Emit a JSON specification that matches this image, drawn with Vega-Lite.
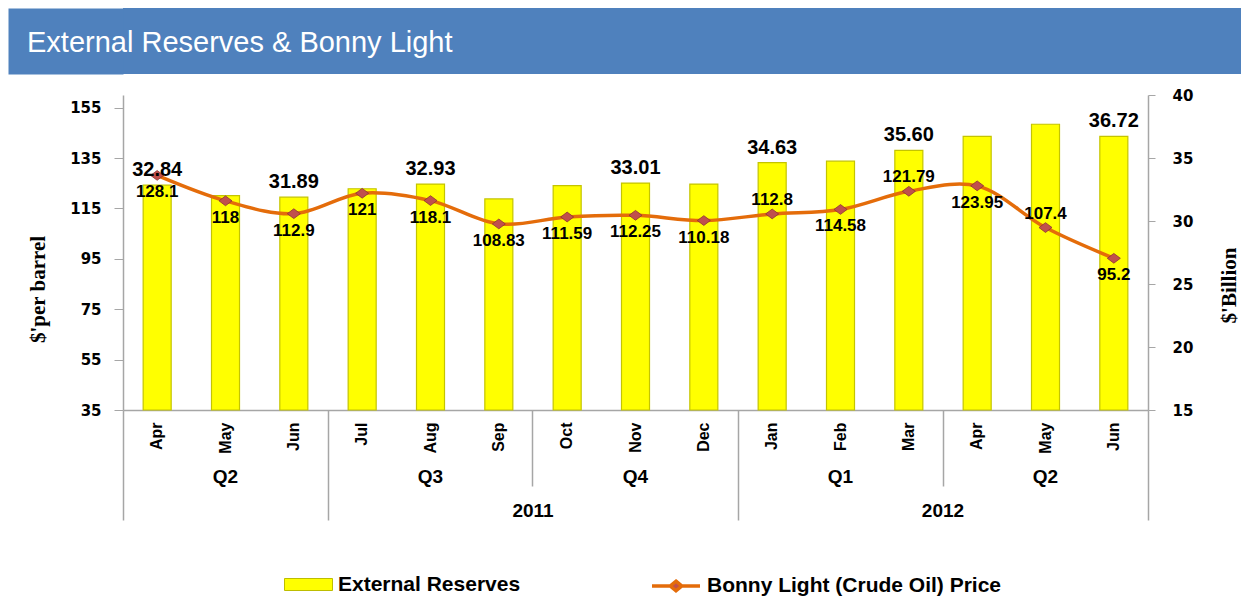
{
 "$schema": "https://vega.github.io/schema/vega-lite/v6.json",
 "background": "white",
 "padding": {"left": -25, "top": 8, "right": 0, "bottom": 0},
 "spacing": 14,
 "config": {"view": {"stroke": null}, "axis": {"grid": false}, "font": "Liberation Sans"},
 "resolve": {"legend": {"stroke": "independent", "fill": "independent"}},
 "vconcat": [
  {
   "width": 1118,
   "height": 66,
   "view": {"fill": "#4F81BD", "stroke": null},
   "title": {"text": "External Reserves & Bonny Light", "orient": "top", "anchor": "start", "frame": "group", "offset": -50, "dx": -96, "color": "white", "fontSize": 29, "fontWeight": "normal", "font": "Liberation Sans"},
   "data": {"values": []},
   "mark": "point",
   "encoding": {
    "y": {"field": "v", "type": "quantitative", "scale": {"domain": [0, 1], "nice": false, "zero": false},
     "axis": {"orient": "left", "values": [0.5], "labels": false, "domain": false, "ticks": true, "tickSize": 115, "tickWidth": 66, "tickColor": "#4F81BD", "tickCap": "butt", "title": null, "grid": false}}
   }
  },
  {
   "width": 1025,
   "height": 315,
   "data": {"values": [
    {"key": "Apr 2011", "reserves": 32.84, "price": 128.1},
    {"key": "May 2011", "reserves": 32.02, "price": 118},
    {"key": "Jun 2011", "reserves": 31.89, "price": 112.9},
    {"key": "Jul 2011", "reserves": 32.56, "price": 121},
    {"key": "Aug 2011", "reserves": 32.93, "price": 118.1},
    {"key": "Sep 2011", "reserves": 31.75, "price": 108.83},
    {"key": "Oct 2011", "reserves": 32.8, "price": 111.59},
    {"key": "Nov 2011", "reserves": 33.01, "price": 112.25},
    {"key": "Dec 2011", "reserves": 32.93, "price": 110.18},
    {"key": "Jan 2012", "reserves": 34.63, "price": 112.8},
    {"key": "Feb 2012", "reserves": 34.75, "price": 114.58},
    {"key": "Mar 2012", "reserves": 35.6, "price": 121.79},
    {"key": "Apr 2012", "reserves": 36.72, "price": 123.95},
    {"key": "May 2012", "reserves": 37.68, "price": 107.4},
    {"key": "Jun 2012", "reserves": 36.72, "price": 95.2}
   ]},
   "resolve": {"scale": {"y": "independent"}, "axis": {"x": "independent"}},
   "layer": [
    {
     "mark": {"type": "bar", "width": {"band": 0.41}, "strokeWidth": 1.2, "stroke": "#C4C400"},
     "encoding": {
      "x": {"field": "key", "type": "ordinal", "sort": null, "scale": {"paddingInner": 0, "paddingOuter": 0},
       "axis": {"orient": "bottom", "title": null, "labelAngle": -90, "labelExpr": "split(datum.value, ' ')[0]", "labelFont": "Liberation Sans", "labelFontSize": 16, "labelFontWeight": "bold", "labelColor": "black", "labelPadding": 12, "ticks": false, "tickSize": 0, "domainColor": "#A6A6A6", "domainWidth": 1.5, "labelOverlap": false}},
      "y": {"field": "reserves", "type": "quantitative", "scale": {"domain": [15, 40], "nice": false, "zero": false},
       "axis": {"orient": "right", "values": [15, 20, 25, 30, 35, 40], "title": "$'Billion", "titleFont": "Liberation Serif", "titleFontSize": 21, "titleFontWeight": "bold", "titleColor": "black", "titleAngle": 270, "titleX": 81, "titleY": 190, "titleBaseline": "middle", "labelFont": "DejaVu Sans", "labelFontSize": 15, "labelFontWeight": "bold", "labelColor": "black", "labelPadding": 17, "tickSize": 7, "tickColor": "#A6A6A6", "domainColor": "#A6A6A6", "domainWidth": 1.5}},
      "y2": {"datum": 15},
      "fill": {"datum": "External Reserves", "type": "nominal",
       "scale": {"domain": ["External Reserves"], "range": ["#FFFF00"]},
       "legend": {"orient": "none", "legendX": 161, "legendY": 465, "title": null, "padding": 0, "labelFont": "Liberation Sans", "labelFontSize": 21, "labelFontWeight": "bold", "labelColor": "black", "labelOffset": 5, "labelLimit": 500, "symbolSize": 2304, "symbolType": "M-1,-0.25H1V0.25H-1Z", "symbolStrokeColor": "#BDBD00", "symbolStrokeWidth": 1}}
     }
    },
    {
     "mark": {"type": "line", "interpolate": "catmull-rom", "strokeWidth": 3.5, "strokeCap": "round"},
     "encoding": {
      "x": {"field": "key", "type": "ordinal", "sort": null,
       "axis": {"orient": "bottom", "title": null, "labels": false, "domain": false, "ticks": true, "tickSize": 110, "tickColor": "#A6A6A6", "tickWidth": 1.5, "bandPosition": 0, "values": ["Apr 2011", "Jul 2011", "Jan 2012"]}},
      "y": {"field": "price", "type": "quantitative", "scale": {"domain": [35, 160], "nice": false, "zero": false},
       "axis": {"orient": "left", "values": [35, 55, 75, 95, 115, 135, 155], "title": "$'per barrel", "titleFont": "Liberation Serif", "titleFontSize": 21, "titleFontWeight": "bold", "titleColor": "black", "titleX": -85, "titleY": 194, "titleBaseline": "middle", "labelFont": "DejaVu Sans", "labelFontSize": 15, "labelFontWeight": "bold", "labelColor": "black", "labelPadding": 13, "tickSize": 9, "tickColor": "#A6A6A6", "domainColor": "#A6A6A6", "domainWidth": 1.5}},
      "stroke": {"datum": "Bonny Light (Crude Oil) Price", "type": "nominal",
       "scale": {"domain": ["Bonny Light (Crude Oil) Price"], "range": ["#E46C0A"]},
       "legend": {"orient": "none", "legendX": 527, "legendY": 465, "title": null, "padding": 0, "labelFont": "Liberation Sans", "labelFontSize": 21, "labelFontWeight": "bold", "labelColor": "black", "labelOffset": 5, "labelLimit": 500, "symbolSize": 2304, "symbolType": "M-1,0H-0.24M0.24,0H1M0,-0.2L0.24,0L0,0.2L-0.24,0Z", "symbolFillColor": "#C0504D", "symbolStrokeWidth": 3.5}}
     }
    },
    {
     "mark": {"type": "point", "shape": "M0,-0.75L1,0L0,0.75L-1,0Z", "filled": true, "size": 170, "fill": "#C0504D", "stroke": "#8E3431", "strokeWidth": 0.8, "opacity": 1},
     "encoding": {
      "x": {"field": "key", "type": "ordinal", "sort": null,
       "axis": {"orient": "bottom", "title": null, "labels": false, "domain": false, "ticks": true, "tickSize": 76, "tickColor": "#A6A6A6", "tickWidth": 1.5, "bandPosition": 1, "values": ["Sep 2011", "Mar 2012"]}},
      "y": {"field": "price", "type": "quantitative", "scale": {"domain": [35, 160], "nice": false, "zero": false}, "axis": null}
     }
    },
    {
     "mark": {"type": "text", "dy": 17, "fontSize": 17, "fontWeight": "bold", "color": "black", "font": "Liberation Sans"},
     "encoding": {
      "x": {"field": "key", "type": "ordinal", "sort": null,
       "axis": {"orient": "bottom", "title": null, "ticks": false, "tickSize": 0, "domain": false, "values": ["May 2011", "Aug 2011", "Nov 2011", "Feb 2012", "May 2012"], "labelExpr": "indexof(['May 2011','May 2012'], datum.value) >= 0 ? 'Q2' : datum.value == 'Aug 2011' ? 'Q3' : datum.value == 'Nov 2011' ? 'Q4' : 'Q1'", "labelAngle": 0, "labelBaseline": "middle", "labelPadding": 66, "labelFont": "Liberation Sans", "labelFontSize": 19, "labelFontWeight": "bold", "labelColor": "black", "labelOverlap": false}},
      "y": {"field": "price", "type": "quantitative", "scale": {"domain": [35, 160], "nice": false, "zero": false}, "axis": null},
      "text": {"condition": {"test": "indexof(['Jan 2012','Mar 2012','May 2012'], datum.key) < 0", "field": "price", "type": "nominal"}, "value": ""}
     }
    },
    {
     "mark": {"type": "text", "dy": -14, "fontSize": 17, "fontWeight": "bold", "color": "black", "font": "Liberation Sans"},
     "encoding": {
      "x": {"field": "key", "type": "ordinal", "sort": null,
       "axis": {"orient": "bottom", "title": null, "ticks": false, "tickSize": 0, "domain": false, "values": ["Sep 2011", "Mar 2012"], "labelOffset": 34.17, "labelExpr": "split(datum.value, ' ')[1]", "labelAngle": 0, "labelBaseline": "middle", "labelPadding": 100, "labelFont": "Liberation Sans", "labelFontSize": 19, "labelFontWeight": "bold", "labelColor": "black", "labelOverlap": false}},
      "y": {"field": "price", "type": "quantitative", "scale": {"domain": [35, 160], "nice": false, "zero": false}, "axis": null},
      "text": {"condition": {"test": "indexof(['Jan 2012','Mar 2012','May 2012'], datum.key) >= 0", "field": "price", "type": "nominal"}, "value": ""}
     }
    },
    {
     "mark": {"type": "text", "dy": -15, "fontSize": 20, "fontWeight": "bold", "color": "black", "font": "Liberation Sans"},
     "encoding": {
      "x": {"field": "key", "type": "ordinal", "sort": null,
       "axis": {"orient": "bottom", "title": null, "labels": false, "domain": false, "ticks": true, "tickSize": 110, "tickColor": "#A6A6A6", "tickWidth": 1.5, "bandPosition": 1, "values": ["Jun 2012"]}},
      "y": {"field": "reserves", "type": "quantitative", "scale": {"domain": [15, 40], "nice": false, "zero": false}, "axis": null},
      "text": {"condition": {"test": "indexof(['Apr 2011','Jun 2011','Aug 2011','Nov 2011','Jan 2012','Mar 2012','Jun 2012'], datum.key) >= 0", "field": "reserves", "type": "quantitative", "format": ".2f"}, "value": ""}
     }
    }
   ]
  }
 ]
}
